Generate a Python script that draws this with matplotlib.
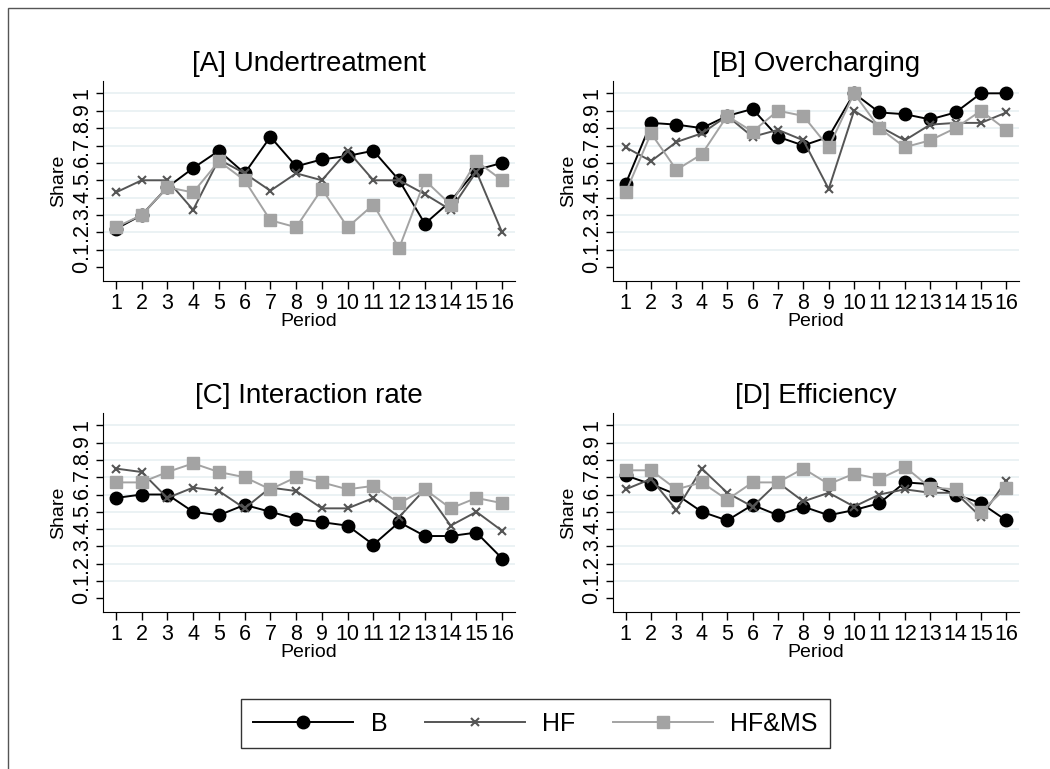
import matplotlib.pyplot as plt
import matplotlib.patches as patches
import numpy as np

plt.rcParams['font.family'] = ['Liberation Sans', 'DejaVu Sans']

# DADOS

periodos = list(range(1, 17))
titulos = ['[A] Undertreatment', '[B] Overcharging', '[C] Interaction rate', '[D] Efficiency']
series = ['B', 'HF', 'HF&MS']

a_b = [0.22, 0.30, 0.46, 0.57, 0.67, 0.54, 0.75, 0.58, 0.62, 0.64, 0.67, 0.50, 0.25, 0.38, 0.56, 0.60]
a_hf = [0.43, 0.50, 0.50, 0.33, 0.62, 0.54, 0.44, 0.54, 0.50, 0.67, 0.50, 0.50, 0.42, 0.33, 0.55, 0.20]
a_hfms = [0.23, 0.30, 0.46, 0.43, 0.61, 0.50, 0.27, 0.23, 0.45, 0.23, 0.36, 0.11, 0.50, 0.36, 0.61, 0.50]

b_b = [0.48, 0.83, 0.82, 0.80, 0.87, 0.91, 0.75, 0.70, 0.75, 1.00, 0.89, 0.88, 0.85, 0.89, 1.00, 1.00]
b_hf = [0.69, 0.61, 0.72, 0.77, 0.87, 0.75, 0.79, 0.73, 0.45, 0.90, 0.81, 0.73, 0.82, 0.83, 0.83, 0.89]
b_hfms = [0.43, 0.77, 0.56, 0.65, 0.87, 0.78, 0.90, 0.87, 0.69, 1.00, 0.80, 0.69, 0.73, 0.80, 0.90, 0.79]

c_b = [0.58, 0.60, 0.60, 0.50, 0.48, 0.54, 0.50, 0.46, 0.44, 0.42, 0.31, 0.44, 0.36, 0.36, 0.38, 0.23]
c_hf = [0.75, 0.73, 0.58, 0.64, 0.62, 0.52, 0.64, 0.62, 0.52, 0.52, 0.58, 0.47, 0.63, 0.42, 0.50, 0.39]
c_hfms = [0.67, 0.67, 0.73, 0.78, 0.73, 0.70, 0.63, 0.70, 0.67, 0.63, 0.65, 0.55, 0.63, 0.52, 0.58, 0.55]

d_b = [0.71, 0.66, 0.60, 0.50, 0.45, 0.54, 0.48, 0.53, 0.48, 0.51, 0.55, 0.67, 0.66, 0.60, 0.55, 0.45]
d_hf = [0.63, 0.69, 0.51, 0.75, 0.61, 0.53, 0.67, 0.56, 0.61, 0.53, 0.60, 0.63, 0.61, 0.61, 0.47, 0.68]
d_hfms = [0.74, 0.74, 0.63, 0.67, 0.57, 0.67, 0.67, 0.75, 0.66, 0.72, 0.69, 0.76, 0.64, 0.63, 0.50, 0.64]

paineis = [(a_b, a_hf, a_hfms), (b_b, b_hf, b_hfms), (c_b, c_hf, c_hfms), (d_b, d_hf, d_hfms)]

y_ticks = np.round(np.arange(0, 1.01, 0.1), 1)
y_rotulos = ['0', '.1', '.2', '.3', '.4', '.5', '.6', '.7', '.8', '.9', '1']

# ESTILOS
estilos = [
    dict(color='black', marker='o', markersize=9, lw=1.4),
    dict(color='#555555', marker='x', markersize=6, mew=1.5, lw=1.4),
    dict(color='#a3a3a3', marker='s', markersize=8, lw=1.4),
]

fig = plt.figure(figsize=(10.5, 7.69), dpi=100)

# moldura externa
fig.patches.append(patches.Rectangle((8 / 1050, -0.01), 1.02, 1 - 8 / 769 + 0.01,
                                     transform=fig.transFigure, fill=False,
                                     edgecolor='#555555', lw=1.0))

posicoes = [
    [0.0981, 0.6346, 0.3924, 0.2601],
    [0.5838, 0.6346, 0.3867, 0.2601],
    [0.0981, 0.2042, 0.3924, 0.2587],
    [0.5838, 0.2042, 0.3867, 0.2587],
]

linhas = []
for pos, titulo, dados in zip(posicoes, titulos, paineis):
    ax = fig.add_axes(pos)
    for y in y_ticks[1:]:
        ax.axhline(y, color='#e8f0f2', lw=1.2, zorder=0)
    linhas = []
    for valores, est, nome in zip(dados, estilos, series):
        l, = ax.plot(periodos, valores, label=nome, **est)
        linhas.append(l)
    ax.set_xlim(0.5, 16.5)
    ax.set_ylim(-0.079, 1.071)
    ax.set_xticks(periodos)
    ax.set_xticklabels([str(p) for p in periodos], fontsize=15.5)
    ax.set_yticks(y_ticks)
    ax.set_yticklabels(y_rotulos, fontsize=15.5, rotation=90, va='center')
    ax.tick_params(axis='x', length=6, width=1, pad=3)
    ax.tick_params(axis='y', length=5, width=1, pad=3)
    ax.spines['top'].set_visible(False)
    ax.spines['right'].set_visible(False)
    ax.set_xlabel('Period', fontsize=14, labelpad=-1)
    ax.set_ylabel('Share', fontsize=14, labelpad=3)
    ax.set_title(titulo, fontsize=20, pad=7)

fig.legend(linhas, series, loc='center', bbox_to_anchor=(0.51, 0.059), ncol=3,
           fontsize=18, handlelength=4.0, handletextpad=0.7, columnspacing=1.5,
           frameon=True, fancybox=False, edgecolor='black', borderpad=0.5)

fig.savefig('out.png', dpi=100)
